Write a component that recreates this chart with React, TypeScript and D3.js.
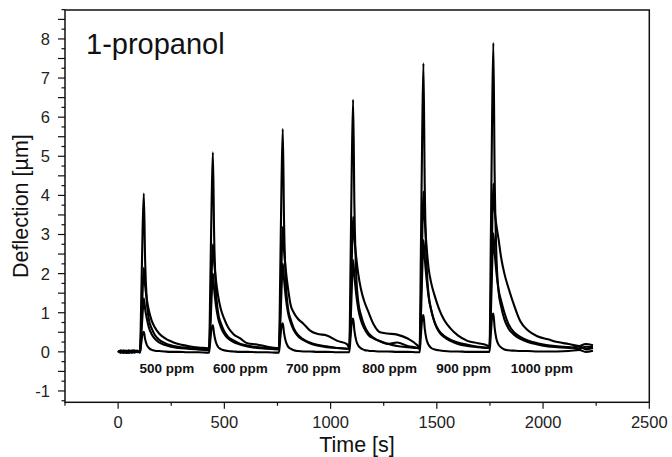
import React from "react";
import * as d3 from "d3";

// ---- data ----
const pulseStarts = [103, 428, 757, 1088, 1419, 1748];
const ppmLabels = ["500 ppm", "600 ppm", "700 ppm", "800 ppm", "900 ppm", "1000 ppm"];
const ppmLabelTimes = [230, 575, 919, 1278, 1626, 1994];
const offsets = [0, 6, 12, 18, 24, 32, 42, 55, 70, 90, 115, 145, 180, 225, 275, 320];
const preTimes = [0, 12, 25, 38, 50, 63, 76, 90, 100];
const endTimes = [2120, 2170, 2200, 2235];

const traceAPre = [0.03, -0.02, 0.04, 0.0, 0.03, -0.02, 0.02, -0.01, 0.0];
const traceA = [
  [0.02, 1.4, 3.05, 4.05, 2.35, 1.3, 0.82, 0.6, 0.43, 0.31, 0.23, 0.17, 0.13, 0.1, 0.07, 0.05],
  [0.05, 1.8, 3.8, 5.1, 2.95, 1.63, 1.02, 0.74, 0.54, 0.38, 0.29, 0.21, 0.16, 0.12, 0.09, 0.07],
  [0.07, 2.0, 4.3, 5.7, 3.3, 1.82, 1.14, 0.83, 0.6, 0.43, 0.32, 0.24, 0.18, 0.14, 0.1, 0.08],
  [0.08, 2.26, 4.84, 6.45, 3.74, 2.06, 1.29, 0.94, 0.68, 0.48, 0.36, 0.27, 0.21, 0.15, 0.12, 0.1],
  [0.1, 2.58, 5.5, 7.38, 4.28, 2.36, 1.48, 1.07, 0.77, 0.55, 0.41, 0.31, 0.24, 0.18, 0.13, 0.11],
  [0.11, 2.77, 5.9, 7.9, 4.58, 2.53, 1.58, 1.15, 0.83, 0.59, 0.44, 0.33, 0.25, 0.19, 0.14, 0.12],
];
const traceAEnd = [0.1, 0.14, 0.07, 0.1];

const traceBPre = [-0.02, 0.04, -0.01, 0.03, -0.03, 0.02, 0.04, 0.0, 0.02];
const traceB = [
  [0.03, 0.65, 1.5, 2.15, 1.7, 1.35, 1.05, 0.8, 0.62, 0.47, 0.36, 0.27, 0.2, 0.15, 0.11, 0.09],
  [0.08, 0.85, 1.95, 2.75, 2.3, 1.85, 1.45, 1.1, 0.86, 0.62, 0.45, 0.35, 0.22, 0.19, 0.13, 0.1],
  [0.1, 1.0, 2.25, 3.2, 2.6, 2.1, 1.65, 1.2, 1.0, 0.84, 0.72, 0.55, 0.46, 0.42, 0.28, 0.2],
  [0.1, 1.05, 2.4, 3.45, 2.9, 2.45, 2.0, 1.6, 1.3, 1.02, 0.7, 0.5, 0.47, 0.44, 0.34, 0.17],
  [0.1, 1.25, 2.85, 4.1, 3.4, 2.75, 2.15, 1.75, 1.45, 1.12, 0.82, 0.6, 0.42, 0.28, 0.22, 0.16],
  [0.12, 1.3, 3.0, 4.3, 3.65, 3.25, 2.9, 2.4, 2.0, 1.62, 1.2, 0.78, 0.55, 0.4, 0.32, 0.25],
];
const traceBEnd = [0.2, 0.15, 0.2, 0.17];

const traceCPre = [0.0, 0.02, -0.03, 0.01, 0.03, -0.02, 0.0, 0.03, -0.01];
const traceC = [
  [0.0, 0.42, 0.96, 1.37, 1.1, 0.85, 0.62, 0.45, 0.33, 0.24, 0.18, 0.13, 0.1, 0.08, 0.06, 0.05],
  [0.05, 0.6, 1.4, 2.0, 1.6, 1.2, 0.88, 0.64, 0.47, 0.34, 0.25, 0.19, 0.14, 0.1, 0.08, 0.07],
  [0.07, 0.68, 1.58, 2.26, 1.85, 1.4, 1.02, 0.75, 0.55, 0.4, 0.3, 0.22, 0.16, 0.12, 0.1, 0.08],
  [0.08, 0.7, 1.65, 2.35, 1.95, 1.5, 1.1, 0.8, 0.6, 0.43, 0.34, 0.27, 0.2, 0.24, 0.15, 0.1],
  [0.08, 0.86, 2.0, 2.86, 2.4, 1.9, 1.42, 1.05, 0.76, 0.52, 0.38, 0.28, 0.2, 0.15, 0.12, 0.1],
  [0.1, 0.9, 2.1, 3.03, 2.55, 2.05, 1.6, 1.3, 1.0, 0.7, 0.5, 0.38, 0.29, 0.22, 0.17, 0.14],
];
const traceCEnd = [0.12, 0.09, 0.13, 0.12];

const traceDPre = [0.02, -0.02, 0.01, -0.03, 0.0, 0.03, -0.02, 0.01, -0.01];
const traceD = [
  [-0.02, 0.23, 0.46, 0.51, 0.33, 0.18, 0.1, 0.05, 0.03, 0.02, 0.01, 0.0, 0.0, -0.01, -0.01, -0.02],
  [-0.02, 0.3, 0.6, 0.68, 0.45, 0.25, 0.13, 0.07, 0.04, 0.02, 0.01, 0.0, 0.0, -0.01, -0.01, -0.02],
  [-0.02, 0.33, 0.65, 0.73, 0.48, 0.27, 0.14, 0.08, 0.04, 0.02, 0.01, 0.01, 0.0, 0.0, -0.01, -0.01],
  [-0.01, 0.38, 0.76, 0.85, 0.55, 0.3, 0.16, 0.09, 0.05, 0.03, 0.02, 0.01, 0.01, 0.0, 0.0, -0.01],
  [-0.01, 0.42, 0.84, 0.94, 0.6, 0.33, 0.18, 0.1, 0.06, 0.04, 0.02, 0.01, 0.01, 0.0, 0.0, 0.0],
  [0.0, 0.44, 0.88, 0.98, 0.62, 0.34, 0.19, 0.11, 0.06, 0.04, 0.03, 0.02, 0.02, 0.01, 0.01, 0.01],
];
const traceDEnd = [0.02, 0.05, 0.0, 0.03];

const xTickValues = [0, 500, 1000, 1500, 2000, 2500];
const yTickValues = [-1, 0, 1, 2, 3, 4, 5, 6, 7, 8];

function buildSeries(pre: number[], pulses: number[][], end: number[]): [number, number][] {
  const pts: [number, number][] = [];
  pre.forEach((v, i) => pts.push([preTimes[i], v]));
  pulses.forEach((arr, p) => {
    arr.forEach((v, j) => pts.push([pulseStarts[p] + offsets[j], v]));
  });
  end.forEach((v, i) => pts.push([endTimes[i], v]));
  return pts;
}

const series = [
  buildSeries(traceAPre, traceA, traceAEnd),
  buildSeries(traceBPre, traceB, traceBEnd),
  buildSeries(traceCPre, traceC, traceCEnd),
  buildSeries(traceDPre, traceD, traceDEnd),
];

const W = 672;
const H = 457;
const L = 65, R = 649.3, T = 10, B = 402.3;
const FONT = "'Liberation Sans', Arial, sans-serif";

export default function App() {
  const x = d3.scaleLinear().domain([-250, 2500]).range([L, R]);
  const y = d3.scaleLinear().domain([-1.29, 8.74]).range([B, T]);
  const line = d3
    .line<[number, number]>()
    .x((d) => x(d[0]))
    .y((d) => y(d[1]))
    .curve(d3.curveMonotoneX);

  const xMinor = d3.range(-250, 2501, 250).filter((v) => !xTickValues.includes(v));
  const yQuarter = d3.range(-1.25, 8.76, 0.25);

  return (
    <svg
      width={W}
      height={H}
      style={{ position: "absolute", left: 0, top: 0, background: "#fff" }}
      fontFamily={FONT}
    >
      <rect x={0} y={0} width={W} height={H} fill="#fff" />
      {/* data */}
      <g fill="none" stroke="#000" strokeWidth={2.1} strokeLinejoin="round">
        {series.map((s, i) => (
          <path key={i} d={line(s) || ""} />
        ))}
      </g>
      {/* frame */}
      <rect x={L} y={T} width={R - L} height={B - T} fill="none" stroke="#111" strokeWidth={1.5} />
      {/* ticks */}
      <g stroke="#111" strokeWidth={1.2}>
        {yQuarter.map((v, i) => {
          const isHalf = Math.abs(v * 2 - Math.round(v * 2)) < 1e-6;
          const len = isHalf ? 7 : 3.5;
          return <line key={i} x1={L - len} x2={L} y1={y(v)} y2={y(v)} />;
        })}
        {xTickValues.map((v) => (
          <line key={"xm" + v} x1={x(v)} x2={x(v)} y1={B} y2={B + 6.5} />
        ))}
        {xMinor.map((v) => (
          <line key={"xn" + v} x1={x(v)} x2={x(v)} y1={B} y2={B + 3.5} />
        ))}
      </g>
      {/* tick labels */}
      <g fill="#222" fontSize={16.5}>
        {yTickValues.map((v) => (
          <text key={v} x={L - 15} y={y(v)} dy="0.36em" textAnchor="end">
            {v}
          </text>
        ))}
        {xTickValues.map((v) => (
          <text key={v} x={x(v)} y={B + 26} textAnchor="middle">
            {v}
          </text>
        ))}
      </g>
      {/* axis titles */}
      <text x={357} y={452} textAnchor="middle" fontSize={21.5} fill="#111">
        Time [s]
      </text>
      <text
        transform={`translate(28, ${(T + B) / 2}) rotate(-90)`}
        textAnchor="middle"
        fontSize={21.5}
        fill="#111"
      >
        Deflection [µm]
      </text>
      {/* annotation */}
      <text x={86} y={54} fontSize={29} fill="#111">
        1-propanol
      </text>
      <g fontSize={13.5} fontWeight="bold" fill="#111">
        {ppmLabels.map((lab, i) => (
          <text key={lab} x={x(ppmLabelTimes[i])} y={373} textAnchor="middle">
            {lab}
          </text>
        ))}
      </g>
    </svg>
  );
}
